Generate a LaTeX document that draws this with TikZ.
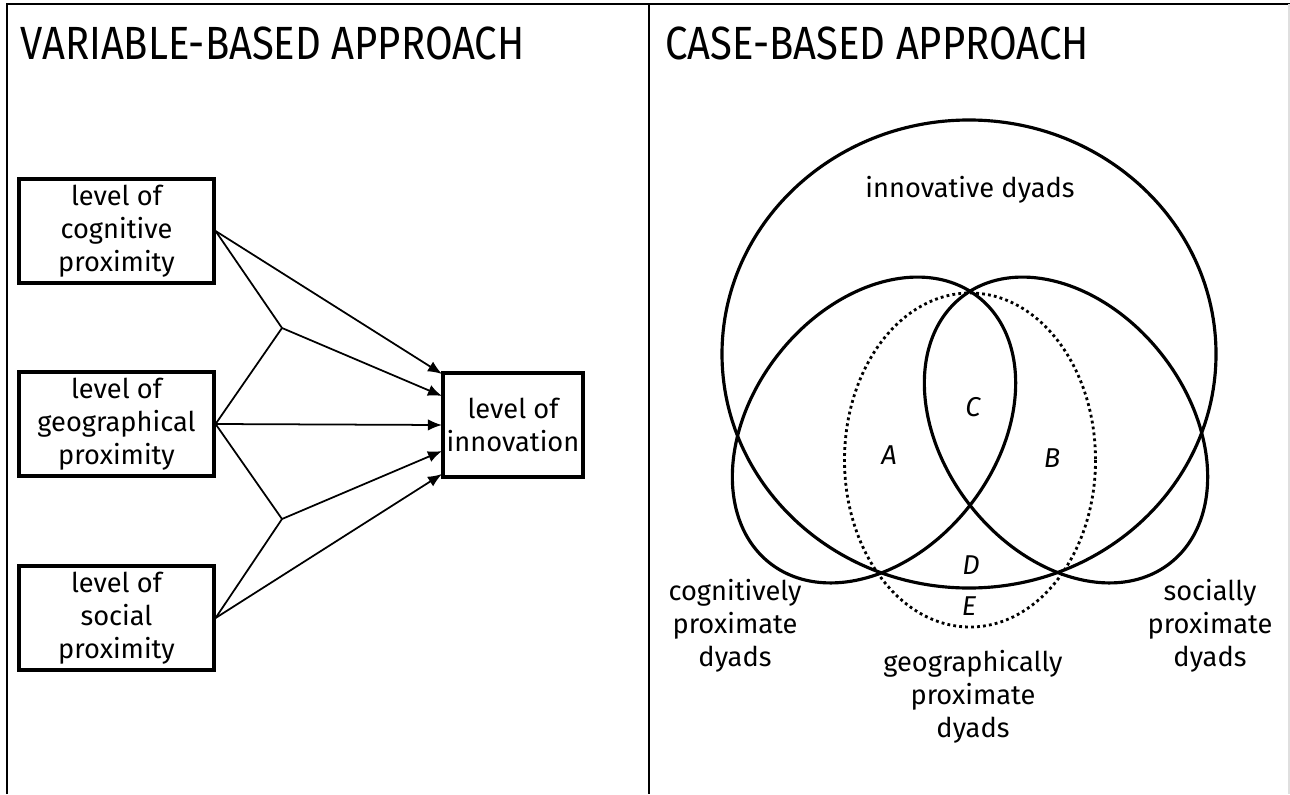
\documentclass[tikz,border=0pt]{standalone}
\usepackage{fontspec}
\setmainfont{Fira Sans}
\newfontfamily\headfont[FakeStretch=0.86]{Fira Sans}
\usetikzlibrary{arrows.meta, positioning}

\tikzset{
  lvl/.style={draw, line width=1.8pt, minimum width=3.9cm, minimum height=2.08cm,
    align=center, inner sep=0pt, font=\fontsize{15.5}{18.7}\selectfont},
  lnk/.style={line width=1pt},
  arr/.style={lnk, -{Latex[length=8pt,width=6.5pt]}},
  set/.style={line width=1.8pt},
  lab/.style={align=center, font=\fontsize{15.5}{18.7}\selectfont},
  reg/.style={font=\fontsize{15.5}{18.7}\selectfont\itshape},
  head/.style={anchor=base west, inner sep=0pt, font=\headfont\fontsize{26.5}{30}\selectfont}
}

\begin{document}
\begin{tikzpicture}[x=0.02cm, y=-0.02cm]
\useasboundingbox (0,0) rectangle (1290,794);
% frame
\draw[line width=1.4pt] (7,794) -- (7,4) -- (1290,4);
\draw[line width=1.4pt] (649,4) -- (649,794);
\draw[gray!25, line width=0.8pt] (1289,4) -- (1289,794);
\node[head] (vtitle) at (20,60) {VARIABLE-BASED APPROACH};
\node[head] (ctitle) at (665,60) {CASE-BASED APPROACH};

% variable-based
\node[lvl] (cog) at (116.5,231) {level of\\cognitive\\proximity};
\node[lvl] (geo) at (116.5,424) {level of\\geographical\\proximity};
\node[lvl] (soc) at (116.5,618) {level of\\social\\proximity};
\node[lvl, minimum width=2.8cm] (inno) at (513,425) {level of\\innovation};
\coordinate (j1) at (282,328);
\coordinate (j2) at (282,519);
\coordinate (t1) at (442,374);
\coordinate (t2) at (442,396);
\coordinate (t3) at (442,425);
\coordinate (t4) at (442,451);
\coordinate (t5) at (442,474);
\draw[arr] (cog.east) -- (t1);
\draw[lnk] (cog.east) -- (j1);
\draw[lnk] (geo.east) -- (j1);
\draw[arr] (j1) -- (t2);
\draw[arr] (geo.east) -- (t3);
\draw[lnk] (geo.east) -- (j2);
\draw[lnk] (soc.east) -- (j2);
\draw[arr] (j2) -- (t4);
\draw[arr] (soc.east) -- (t5);

% case-based
\draw[set] (969,354) ellipse [x radius=247, y radius=234];
\draw[set, rotate around={52:(874,430)}] (874,430) ellipse [x radius=169, y radius=122];
\draw[set, rotate around={-52:(1066,430)}] (1066,430) ellipse [x radius=169, y radius=122];
\draw[line width=1.6pt, dash pattern=on 1.6pt off 1.8pt] (970,460) ellipse [x radius=125.5, y radius=167];
\node[lab] (innov) at (970,190) {innovative dyads};
\node[reg] (ra) at (889,455) {A};
\node[reg] (rb) at (1052,458) {B};
\node[reg] (rc) at (973,407) {C};
\node[reg] (rd) at (971,565) {D};
\node[reg] (re) at (969,606) {E};
\node[lab] (cogd) at (735,626) {cognitively\\proximate\\dyads};
\node[lab] (socd) at (1210,626) {socially\\proximate\\dyads};
\node[lab] (geod) at (973,697) {geographically\\proximate\\dyads};
\end{tikzpicture}
\end{document}
